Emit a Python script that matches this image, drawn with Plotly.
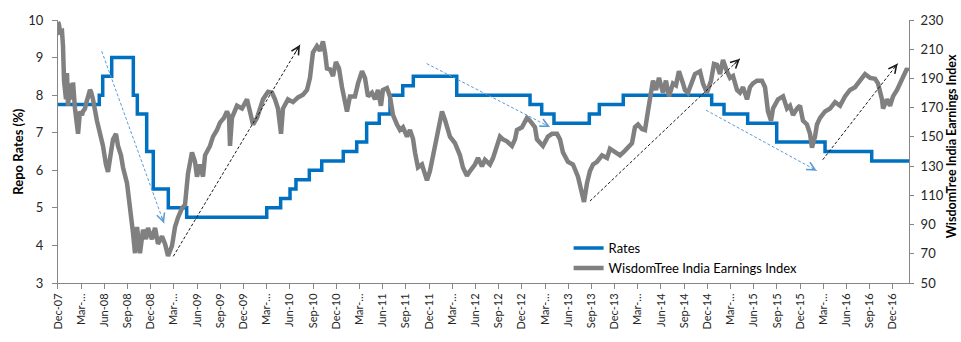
import plotly.graph_objects as go

FONT = "Lato"

# ---- x-axis tick labels (quarterly) ----
tick_labels = ["Dec-07", "Mar-…", "Jun-08", "Sep-08", "Dec-08", "Mar-…", "Jun-09", "Sep-09",
               "Dec-09", "Mar-…", "Jun-10", "Sep-10", "Dec-10", "Mar-…", "Jun-11", "Sep-11",
               "Dec-11", "Mar-…", "Jun-12", "Sep-12", "Dec-12", "Mar-…", "Jun-13", "Sep-13",
               "Dec-13", "Mar-…", "Jun-14", "Sep-14", "Dec-14", "Mar-…", "Jun-15", "Sep-15",
               "Dec-15", "Mar-…", "Jun-16", "Sep-16", "Dec-16"]
tick_years = [2007 + 11 / 12 + 0.25 * i for i in range(len(tick_labels))]

# ---- Repo rate steps (decimal year, %) ----
rate_years = [2007.917, 2008.362, 2008.399, 2008.496, 2008.729, 2008.772, 2008.873, 2008.944,
              2009.106, 2009.304, 2010.167, 2010.317, 2010.418, 2010.482, 2010.626, 2010.760,
              2010.992, 2011.137, 2011.244, 2011.380, 2011.496, 2011.633, 2011.747, 2012.215,
              2013.005, 2013.131, 2013.263, 2013.644, 2013.752, 2014.010, 2014.963, 2015.096,
              2015.351, 2015.664, 2016.185, 2016.688, 2017.090]
rate_values = [7.75, 8.0, 8.5, 9.0, 8.0, 7.5, 6.5, 5.5,
               5.0, 4.75, 5.0, 5.25, 5.5, 5.75, 6.0, 6.25,
               6.5, 6.75, 7.25, 7.5, 8.0, 8.25, 8.5, 8.0,
               7.75, 7.5, 7.25, 7.5, 7.75, 8.0, 7.75, 7.5,
               7.25, 6.75, 6.5, 6.25, 6.25]

# ---- WisdomTree India Earnings Index (decimal year, index level) ----
index_years = [
    2007.917, 2007.928, 2007.939, 2007.960, 2007.971, 2007.982, 2008.003, 2008.014, 2008.025, 2008.046,
    2008.068, 2008.079, 2008.100, 2008.122, 2008.133, 2008.154, 2008.176, 2008.186, 2008.208, 2008.219,
    2008.240, 2008.262, 2008.273, 2008.294, 2008.337, 2008.370, 2008.402, 2008.434, 2008.456, 2008.488,
    2008.510, 2008.542, 2008.564, 2008.596, 2008.618, 2008.661, 2008.693, 2008.725, 2008.747, 2008.769,
    2008.801, 2008.833, 2008.866, 2008.887, 2008.930, 2008.963, 2008.995, 2009.038, 2009.071, 2009.103,
    2009.146, 2009.178, 2009.210, 2009.253, 2009.286, 2009.318, 2009.361, 2009.394, 2009.415, 2009.448,
    2009.480, 2009.502, 2009.555, 2009.588, 2009.631, 2009.663, 2009.706, 2009.738, 2009.760, 2009.771,
    2009.792, 2009.846, 2009.900, 2009.954, 2009.986, 2010.019, 2010.062, 2010.127, 2010.181, 2010.224,
    2010.256, 2010.288, 2010.321, 2010.342, 2010.396, 2010.450, 2010.504, 2010.558, 2010.601, 2010.633,
    2010.665, 2010.708, 2010.741, 2010.773, 2010.795, 2010.816, 2010.849, 2010.881, 2010.913, 2010.946,
    2010.978, 2011.010, 2011.032, 2011.064, 2011.118, 2011.151, 2011.194, 2011.226, 2011.258, 2011.301,
    2011.334, 2011.366, 2011.398, 2011.420, 2011.463, 2011.495, 2011.528, 2011.571, 2011.603, 2011.636,
    2011.679, 2011.711, 2011.743, 2011.765, 2011.797, 2011.840, 2011.894, 2011.926, 2011.959, 2012.002,
    2012.034, 2012.056, 2012.088, 2012.121, 2012.142, 2012.196, 2012.250, 2012.282, 2012.325, 2012.358,
    2012.411, 2012.444, 2012.487, 2012.519, 2012.573, 2012.606, 2012.649, 2012.681, 2012.713, 2012.756,
    2012.810, 2012.843, 2012.864, 2012.918, 2012.972, 2013.004, 2013.058, 2013.080, 2013.144, 2013.198,
    2013.242, 2013.296, 2013.328, 2013.360, 2013.414, 2013.468, 2013.522, 2013.565, 2013.587, 2013.619,
    2013.651, 2013.684, 2013.727, 2013.781, 2013.835, 2013.867, 2013.921, 2013.975, 2014.029, 2014.083,
    2014.104, 2014.136, 2014.169, 2014.212, 2014.244, 2014.276, 2014.309, 2014.330, 2014.363, 2014.395,
    2014.438, 2014.470, 2014.503, 2014.546, 2014.578, 2014.610, 2014.654, 2014.675, 2014.707, 2014.751,
    2014.783, 2014.837, 2014.869, 2014.912, 2014.956, 2014.988, 2015.020, 2015.053, 2015.085, 2015.128,
    2015.161, 2015.193, 2015.236, 2015.268, 2015.301, 2015.344, 2015.376, 2015.408, 2015.451, 2015.505,
    2015.538, 2015.570, 2015.603, 2015.624, 2015.678, 2015.732, 2015.775, 2015.807, 2015.840, 2015.883,
    2015.915, 2015.947, 2015.990, 2016.023, 2016.044, 2016.077, 2016.098, 2016.131, 2016.185, 2016.239,
    2016.293, 2016.347, 2016.400, 2016.454, 2016.508, 2016.562, 2016.616, 2016.670, 2016.724, 2016.756,
    2016.799, 2016.810, 2016.853, 2016.886, 2016.918, 2016.961, 2016.993, 2017.026, 2017.069, 2017.080]
index_values = [
    228.7, 226.8, 221.7, 222.3, 212.1, 188.5, 175.7, 193.6, 171.3, 186.6,
    175.7, 187.2, 169.4, 158.5, 152.1, 167.4, 164.9, 167.4, 169.4, 172.6,
    177.7, 182.1, 180.9, 175.7, 161.1, 152.1, 143.8, 131.1, 126.0, 139.4,
    148.3, 152.1, 143.8, 137.4, 129.1, 118.3, 103.6, 84.5, 70.4, 88.3,
    70.4, 86.4, 80.0, 87.7, 80.0, 87.7, 76.8, 82.0, 76.8, 68.5,
    75.5, 88.3, 94.7, 101.1, 103.6, 124.7, 139.4, 133.0, 122.8, 131.1,
    122.8, 137.4, 143.8, 150.2, 154.7, 159.8, 163.0, 167.4, 164.3, 143.8,
    163.0, 171.3, 169.4, 175.7, 167.4, 158.5, 163.0, 175.7, 180.9, 180.2,
    175.7, 169.4, 152.1, 169.4, 175.7, 173.8, 177.0, 178.9, 182.1, 190.4,
    207.7, 212.1, 208.9, 215.3, 207.7, 196.8, 196.2, 191.7, 201.3, 196.8,
    184.0, 175.7, 167.4, 177.7, 177.7, 186.6, 194.9, 190.4, 177.7, 180.2,
    175.7, 182.1, 171.3, 182.1, 183.4, 177.7, 164.9, 158.5, 154.7, 156.6,
    150.2, 154.7, 148.9, 139.4, 129.1, 131.1, 120.2, 126.6, 137.4, 148.3,
    159.8, 167.4, 161.7, 153.4, 150.2, 145.7, 137.4, 129.1, 123.4, 126.6,
    131.1, 135.5, 129.8, 134.3, 131.1, 135.5, 143.8, 150.2, 148.3, 147.0,
    143.8, 148.3, 154.7, 156.6, 163.0, 161.1, 156.6, 148.3, 143.8, 150.2,
    152.1, 152.1, 148.3, 139.4, 133.0, 131.1, 122.8, 111.9, 105.5, 118.3,
    126.6, 131.1, 133.0, 137.4, 135.5, 141.9, 139.4, 137.4, 140.6, 143.8,
    145.7, 156.6, 158.5, 155.3, 154.7, 167.4, 182.1, 188.5, 182.1, 190.4,
    180.2, 188.5, 177.7, 186.6, 185.3, 194.9, 186.6, 182.1, 180.2, 188.5,
    193.0, 194.9, 186.6, 180.2, 188.5, 200.0, 199.4, 193.0, 202.6, 194.9,
    190.4, 191.7, 182.1, 180.2, 184.0, 175.7, 184.0, 186.6, 188.5, 188.5,
    184.0, 167.4, 161.1, 169.4, 175.7, 177.7, 169.4, 171.3, 164.9, 169.4,
    171.3, 161.1, 158.5, 152.1, 142.6, 150.2, 158.5, 163.0, 167.4, 169.4,
    173.8, 171.3, 177.7, 182.1, 184.0, 188.5, 193.0, 190.4, 189.8, 186.6,
    175.7, 169.4, 175.7, 171.3, 177.7, 182.1, 186.6, 190.4, 196.8, 194.9]

# ---- Trend arrows: (start year, start rate, end year, end rate, kind) on the rate axis ----
arrow_x0 = [2008.388, 2009.160, 2011.891, 2013.651, 2014.902, 2016.160]
arrow_y0 = [9.17, 3.71, 8.84, 5.18, 7.60, 6.28]
arrow_x1 = [2009.060, 2010.526, 2013.220, 2015.268, 2016.095, 2016.968]
arrow_y1 = [4.59, 9.34, 7.15, 8.97, 5.99, 8.84]
arrow_kind = ["rate", "index", "rate", "index", "rate", "index"]

BLUE = "#0070C0"
GREY = "#808080"
AXIS = "#868686"
TXT = "#262626"
ARROW_COLORS = {"rate": "#5B9BD5", "index": "#1a1a1a"}

fig = go.Figure()
fig.add_trace(go.Scatter(x=rate_years, y=rate_values, name="Rates", mode="lines",
                         line=dict(color=BLUE, width=3.5, shape="hv"), yaxis="y"))
fig.add_trace(go.Scatter(x=index_years, y=index_values, name="WisdomTree India Earnings Index",
                         mode="lines", line=dict(color=GREY, width=4.5), yaxis="y2"))

for x0, y0, x1, y1, k in zip(arrow_x0, arrow_y0, arrow_x1, arrow_y1, arrow_kind):
    c = ARROW_COLORS[k]
    fig.add_shape(type="line", x0=x0, y0=y0, x1=x1, y1=y1, xref="x", yref="y",
                  line=dict(color=c, width=1, dash="3px,2px"))
    fig.add_annotation(x=x1, y=y1, ax=x1 - 0.05 * (x1 - x0), ay=y1 - 0.05 * (y1 - y0),
                       xref="x", yref="y", axref="x", ayref="y", text="", showarrow=True,
                       arrowhead=5, arrowsize=1.6, arrowwidth=1, arrowcolor=c, standoff=0)

# axis titles
fig.add_annotation(text="<b>Repo Rates (%)</b>", xref="paper", yref="paper", x=-0.048, y=0.5,
                   xanchor="center", yanchor="middle", textangle=-90, showarrow=False,
                   font=dict(family=FONT, size=13, color="#000000"))
fig.add_annotation(text="<b>WisdomTree India Earnings Index</b>", xref="paper", yref="paper",
                   x=1.0495, y=0.52, xanchor="center", yanchor="middle", textangle=-90,
                   showarrow=False, font=dict(family=FONT, size=12.5, color="#000000"))

fig.update_layout(
    width=961, height=342,
    margin=dict(l=58, r=52, t=15, b=45),
    paper_bgcolor="white", plot_bgcolor="white",
    font=dict(family=FONT, color=TXT),
    showlegend=True,
    legend=dict(x=0.600, y=0.19, xanchor="left", yanchor="top", bgcolor="rgba(0,0,0,0)",
                font=dict(family=FONT, size=13, color="#000000"), tracegroupgap=0),
    xaxis=dict(range=[2007.917, 2017.09], tickmode="array", tickvals=tick_years,
               ticktext=tick_labels, tickangle=-90, ticks="outside", ticklen=5,
               tickcolor=AXIS, showline=True, linecolor=AXIS, linewidth=1,
               showgrid=False, zeroline=False, tickfont=dict(family=FONT, size=11, color=TXT)),
    yaxis=dict(range=[3, 10], dtick=1, ticks="outside", ticklen=5, tickcolor=AXIS,
               showline=True, linecolor=AXIS, linewidth=1, showgrid=False, zeroline=False,
               ticklabelstandoff=6, tickfont=dict(family=FONT, size=13, color=TXT)),
    yaxis2=dict(range=[50, 230], tick0=50, dtick=20, overlaying="y", side="right", anchor="x",
                ticks="outside", ticklen=4, tickcolor=AXIS, showline=True, linecolor=AXIS,
                linewidth=1, showgrid=False, zeroline=False, ticklabelstandoff=4,
                tickfont=dict(family=FONT, size=13, color=TXT)),
)

fig.write_html("out.html")
